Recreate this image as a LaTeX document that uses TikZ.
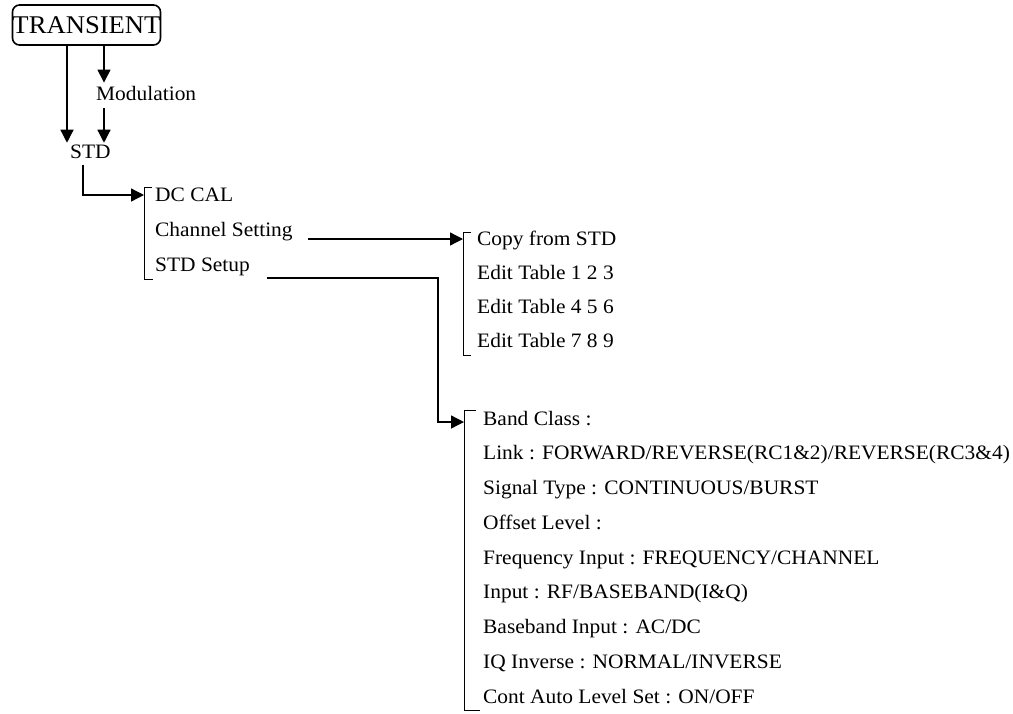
\documentclass[tikz,border=0pt]{standalone}
\usepackage{fontspec}
\setmainfont{Liberation Serif}[FakeStretch=1.045]
\usetikzlibrary{arrows.meta,calc}
\begin{document}
\begin{tikzpicture}[x=1pt,y=-1pt,
  lbl/.style={anchor=base west, inner sep=0pt, font=\fontsize{20.5}{24}\selectfont},
  conn/.style={line width=1.3pt, -{Triangle[length=13pt,width=13pt]}},
  brk/.style={line width=1pt}]
\useasboundingbox (0,0) rectangle (1013,713);
% title box
\node[draw, line width=1.6pt, rounded corners=7pt, minimum width=147pt, minimum height=40pt,
      inner sep=0pt, font=\fontsize{25.5}{30}\selectfont] (trans) at (86.5,25) {TRANSIENT};
\node[lbl] (mod) at (96,100) {Modulation};
\node[lbl] (std) at (70,158.5) {STD};
% first menu
\node[lbl] (dccal) at (155,201) {DC CAL};
\node[lbl] (chset) at (155,236) {Channel Setting};
\node[lbl] (stdsetup) at (155,271) {STD Setup};
% channel setting menu
\node[lbl] (c1) at (477,245.5) {Copy from STD};
\node[lbl] (c2) at (477,279.5) {Edit Table 1 2 3};
\node[lbl] (c3) at (477,313.5) {Edit Table 4 5 6};
\node[lbl] (c4) at (477,347.5) {Edit Table 7 8 9};
% std setup menu
\node[lbl] (s1) at (483,425) {Band Class :};
\node[lbl] (s2) at (483,459.75) {Link : FORWARD/REVERSE(RC1\&2)/REVERSE(RC3\&4)};
\node[lbl] (s3) at (483,494.5) {Signal Type : CONTINUOUS/BURST};
\node[lbl] (s4) at (483,529.25) {Offset Level :};
\node[lbl] (s5) at (483,564) {Frequency Input : FREQUENCY/CHANNEL};
\node[lbl] (s6) at (483,598.75) {Input : RF/BASEBAND(I\&Q)};
\node[lbl] (s7) at (483,633.5) {Baseband Input : AC/DC};
\node[lbl] (s8) at (483,668.25) {IQ Inverse : NORMAL/INVERSE};
\node[lbl] (s9) at (483,703) {Cont Auto Level Set : ON/OFF};
% brackets
\draw[brk] (152,187) -- (144,187) -- (144,279) -- (153,279);
\draw[brk] (471,232) -- (463,232) -- (463,355) -- (471,355);
\draw[brk] (476,410) -- (464,410) -- (464,710) -- (480,710);
% helper coordinates
\coordinate (xa) at (67,0);
\coordinate (xb) at (104,0);
\coordinate (xc) at (83,0);
\coordinate (xd) at (438,0);
\coordinate (b1) at (144,195);
\coordinate (b2) at (463,239);
\coordinate (b3) at (464,422);
% connectors
\draw[conn, shorten >=2pt] (trans.south -| xa) -- (std.north -| xa);
\draw[conn, shorten >=3pt] (trans.south -| xb) -- (mod.north -| xb);
\draw[conn, shorten <=8pt, shorten >=2pt] (mod.south -| xb) -- (std.north -| xb);
\draw[conn, shorten <=6pt] (std.south -| xc) |- (b1);
\draw[conn] ($(chset.base east)+(15,3)$) -- (b2);
\draw[conn] ($(stdsetup.base east)+(17,7)$) -| (xd |- b3) -- (b3);
\end{tikzpicture}
\end{document}
